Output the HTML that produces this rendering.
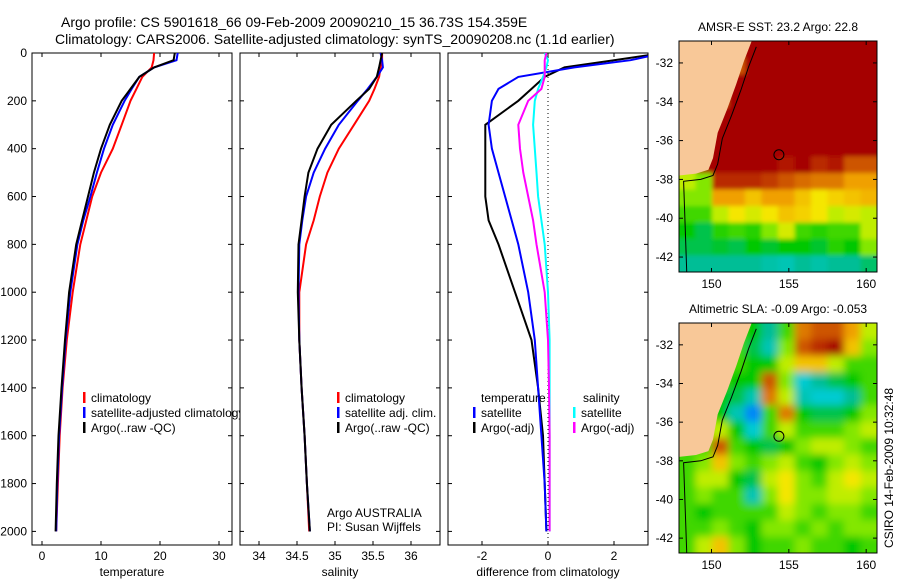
<!DOCTYPE html>
<html><head><meta charset="utf-8"><style>
html,body{margin:0;padding:0;background:#fff;}
svg{display:block;font-family:"Liberation Sans",sans-serif;}
</style></head><body>
<svg id="fig" width="900" height="580" viewBox="0 0 900 580">
<defs>
<filter id="blurS" x="-5%" y="-5%" width="110%" height="110%"><feGaussianBlur stdDeviation="2"/></filter>
<filter id="blurL" x="-5%" y="-5%" width="110%" height="110%"><feGaussianBlur stdDeviation="4"/></filter>
</defs>
<rect x="0" y="0" width="900" height="580" fill="#fff"/>
<text x="61" y="27" font-size="14">Argo profile: CS 5901618_66 09-Feb-2009 20090210_15 36.73S 154.359E</text>
<text x="55" y="44" font-size="14">Climatology: CARS2006. Satellite-adjusted climatology: synTS_20090208.nc (1.1d earlier)</text>
<g id="g"></g>
</svg>
<script>
// ---------- data ----------
const depthTicks=[0,200,400,600,800,1000,1200,1400,1600,1800,2000];
const depths=[0,30,60,100,150,200,300,400,500,600,700,800,1000,1200,1400,1600,1800,2000];
const tempClim=[19,18.9,18.6,17,16,15,13.5,12,10,8.5,7.5,6.5,5.2,4.2,3.5,3,2.7,2.4];
const tempSat=[23,22.8,19,16.5,15.2,14,12,10.5,9.3,8.2,7,6,4.8,4,3.4,2.9,2.6,2.4];
const tempArgo=[22.5,22.3,19,16.5,15,13.5,11.5,10,8.8,7.8,6.8,5.8,4.6,3.9,3.3,2.8,2.5,2.3];
const salClim=[35.62,35.62,35.6,35.58,35.52,35.45,35.25,35.05,34.9,34.8,34.72,34.62,34.53,34.53,34.56,34.6,34.63,34.66];
const salSat=[35.6,35.62,35.63,35.55,35.43,35.3,35.05,34.87,34.72,34.62,34.57,34.53,34.52,34.53,34.56,34.6,34.63,34.67];
const salArgo=[35.62,35.6,35.58,35.55,35.45,35.28,34.95,34.77,34.65,34.6,34.56,34.52,34.51,34.53,34.56,34.6,34.63,34.67];
const dTempSat=[3.5,2.5,0.8,-0.9,-1.5,-1.7,-1.8,-1.7,-1.5,-1.3,-1.1,-0.9,-0.6,-0.4,-0.3,-0.2,-0.1,-0.05];
const dTempArgo=[3.5,2,0.5,-0.1,-0.5,-0.9,-1.9,-1.9,-1.9,-1.9,-1.8,-1.5,-1,-0.5,-0.3,-0.15,-0.1,-0.05];
const dSalSat=[-0.1,0,-0.05,-0.15,-0.3,-0.4,-0.45,-0.4,-0.35,-0.3,-0.2,-0.1,0,0.05,0.05,0.05,0.05,0.05];
const dSalArgo=[-0.05,-0.1,-0.1,-0.1,-0.2,-0.6,-0.9,-0.85,-0.75,-0.6,-0.45,-0.35,-0.1,0,0.03,0.05,0.05,0.05];
const tempTicks=[0,10,20,30];
const salTicks=[34,34.5,35,35.5,36];
const diffTicks=[-2,0,2];
const latTicks=[-32,-34,-36,-38,-40,-42];
const lonTicks=[150,155,160];
const sstGrid=[
[1,1,1,1,1,1,1,1,1,1,1,1],[1,1,1,0.85,1,1,1,1,1,1,1,1],[1,1,0.85,1,1,1,1,1,1,1,1,1],
[1,1,0.85,1,1,1,1,1,1,1,1,1],[1,0.9,1,1,1,1,1,1,1,1,1,1],[1,0.9,1,1,1,1,1,1,1,1,1,1],
[1,1,1,1,1,0.97,0.95,1,0.95,1,1,1],[0.6,1,1,0.97,0.95,0.95,0.92,0.95,0.9,0.92,0.85,0.85],
[0.6,0.55,0.9,0.9,0.9,0.88,0.85,0.82,0.8,0.8,0.75,0.75],[0.55,0.55,0.75,0.75,0.7,0.75,0.75,0.7,0.65,0.68,0.7,0.72],
[0.5,0.5,0.6,0.65,0.62,0.65,0.7,0.68,0.65,0.6,0.62,0.6],[0.45,0.4,0.48,0.5,0.48,0.55,0.62,0.5,0.48,0.5,0.5,0.6],
[0.4,0.4,0.42,0.4,0.45,0.42,0.45,0.45,0.42,0.48,0.45,0.55],[0.35,0.35,0.35,0.35,0.35,0.32,0.3,0.35,0.32,0.35,0.35,0.38]];
const slaGrid=[
[0.5,0.5,0.5,0.5,0.45,0.35,0.5,0.8,0.85,0.85,0.75,0.6],[0.5,0.5,0.5,0.5,0.4,0.3,0.55,0.85,0.9,0.95,0.7,0.55],
[0.5,0.5,0.5,0.5,0.45,0.45,0.6,0.7,0.7,0.6,0.5,0.5],[0.5,0.5,0.5,0.45,0.45,0.85,0.55,0.25,0.35,0.4,0.45,0.5],
[0.5,0.5,0.45,0.4,0.3,0.8,0.6,0.3,0.25,0.25,0.35,0.5],[0.5,0.5,0.45,0.3,0.1,0.5,0.8,0.45,0.4,0.4,0.45,0.55],
[0.5,0.55,0.6,0.45,0.25,0.5,0.6,0.5,0.5,0.5,0.55,0.6],[0.5,0.5,0.85,0.5,0.45,0.4,0.45,0.55,0.6,0.6,0.55,0.5],
[0.5,0.55,0.7,0.55,0.5,0.55,0.6,0.5,0.45,0.55,0.6,0.55],[0.5,0.6,0.6,0.45,0.4,0.6,0.65,0.55,0.5,0.6,0.65,0.6],
[0.5,0.55,0.5,0.5,0.3,0.55,0.65,0.55,0.55,0.6,0.6,0.55],[0.5,0.45,0.5,0.5,0.5,0.5,0.6,0.55,0.5,0.55,0.55,0.5],
[0.5,0.5,0.55,0.5,0.45,0.55,0.55,0.5,0.55,0.5,0.55,0.55],[0.5,0.6,0.7,0.55,0.45,0.5,0.5,0.55,0.5,0.5,0.45,0.5]];
const argoLon=154.359, argoLat=-36.73;
const coastLon=[152.6,152.1,151.6,151.0,150.4,150.1,149.8,149.0,147.9];
const coastLat=[-30.87,-31.9,-33.1,-34.4,-35.6,-36.9,-37.5,-37.7,-37.8];

// ---------- helpers ----------
const NS="http://www.w3.org/2000/svg";
const G=document.getElementById('g');
function mk(tag,attrs,parent){const e=document.createElementNS(NS,tag);for(const k in attrs)e.setAttribute(k,attrs[k]);(parent||G).appendChild(e);return e;}
const yTop=53,yBot=545;
function yD(d){return yTop+d*0.2392;}
function linX(x0,x1,v0,v1){return v=>x0+(v-v0)*(x1-x0)/(v1-v0);}

function panel(name,x0,x1,ticks,xf,label,showY){
  const g=mk('g',{});
  
  
  const r=mk('rect',{x:x0,y:yTop,width:x1-x0,height:yBot-yTop,fill:'#fff',stroke:'#000','stroke-width':1},g);
  
  
  depthTicks.forEach(d=>{
    const y=yD(d);
    mk('line',{x1:x0,x2:x0+4,y1:y,y2:y,stroke:'#000'},g);
    mk('line',{x1:x1-4,x2:x1,y1:y,y2:y,stroke:'#000'},g);
    if(showY){const t=mk('text',{x:x0-5,y:y+4,'font-size':12,'text-anchor':'end'},g);t.textContent=d;
      
      }
  });
  ticks.forEach(v=>{
    const x=xf(v);
    mk('line',{x1:x,x2:x,y1:yBot,y2:yBot-4,stroke:'#000'},g);
    mk('line',{x1:x,x2:x,y1:yTop,y2:yTop+4,stroke:'#000'},g);
    const t=mk('text',{x:x,y:yBot+15,'font-size':12,'text-anchor':'middle'},g);t.textContent=v;
    
    
  });
  const l=mk('text',{x:(x0+x1)/2,y:576,'font-size':12,'text-anchor':'middle'},g);l.textContent=label;
  
  
  return g;
}
function series(g,vals,xf,color,name,clipId){
  const pts=depths.map((d,i)=>xf(vals[i]).toFixed(1)+','+yD(d).toFixed(1)).join(' ');
  const p=mk('polyline',{points:pts,fill:'none',stroke:color,'stroke-width':2,'clip-path':'url(#'+clipId+')'},g);
  
  
}
function clip(id,x0,x1){const defs=mk('defs',{});const c=mk('clipPath',{id:id},defs);mk('rect',{x:x0,y:yTop,width:x1-x0,height:yBot-yTop},c);}
function legend(g,x,y,color,text){
  mk('rect',{x:x,y:y-10,width:2.5,height:11,fill:color},g);
  const t=mk('text',{x:x+8,y:y,'font-size':12},g);t.textContent=text;
  
  
}

// panel 1
const xT=linX(42,219,0,30);
const p1=panel('temperature-panel',32,232,tempTicks,xT,'temperature',true);
clip('c1',32,232);
series(p1,tempClim,xT,'#f00','temp-climatology-line','c1');
series(p1,tempSat,xT,'#00f','temp-satellite-line','c1');
series(p1,tempArgo,xT,'#000','temp-argo-line','c1');
legend(p1,83,402,'#f00','climatology');
legend(p1,83,417,'#00f','satellite-adjusted climatology');
legend(p1,83,432,'#000','Argo(..raw -QC)');

// panel 2
const xS=linX(259,411,34,36);
const p2=panel('salinity-panel',240,440,salTicks,xS,'salinity',false);
clip('c2',240,440);
series(p2,salClim,xS,'#f00','sal-climatology-line','c2');
series(p2,salSat,xS,'#00f','sal-satellite-line','c2');
series(p2,salArgo,xS,'#000','sal-argo-line','c2');
legend(p2,337,402,'#f00','climatology');
legend(p2,337,417,'#00f','satellite adj. clim.');
legend(p2,337,432,'#000','Argo(..raw -QC)');
let t=mk('text',{x:327,y:517,'font-size':12},p2);t.textContent='Argo AUSTRALIA';


t=mk('text',{x:327,y:531,'font-size':12},p2);t.textContent='PI: Susan Wijffels';



// panel 3
const xDf=linX(482,614,-2,2);
const p3=panel('difference-panel',448,648,diffTicks,xDf,'difference from climatology',false);
clip('c3',448,648);
const zl=mk('line',{x1:xDf(0),x2:xDf(0),y1:yTop,y2:yBot,stroke:'#000','stroke-dasharray':'1,3'},p3);


series(p3,dTempArgo,xDf,'#000','dtemp-argo-line','c3');
series(p3,dTempSat,xDf,'#00f','dtemp-satellite-line','c3');
series(p3,dSalSat,xDf,'#0ff','dsal-satellite-line','c3');
series(p3,dSalArgo,xDf,'#f0f','dsal-argo-line','c3');
t=mk('text',{x:481,y:402,'font-size':12},p3);t.textContent='temperature';


t=mk('text',{x:583,y:402,'font-size':12},p3);t.textContent='salinity';


legend(p3,473,417,'#00f','satellite');
legend(p3,473,432,'#000','Argo(-adj)');
legend(p3,573,417,'#0ff','satellite');
legend(p3,573,432,'#f0f','Argo(-adj)');

// ---------- maps ----------
const cmStops=[[0,[0,60,255]],[0.2,[0,210,240]],[0.35,[0,190,150]],[0.45,[0,200,0]],[0.58,[170,240,0]],[0.65,[245,230,0]],[0.75,[240,160,0]],[0.85,[205,85,0]],[0.95,[165,0,0]],[1,[165,0,0]]];
function cmap(v){for(let i=1;i<cmStops.length;i++){if(v<=cmStops[i][0]){const a=cmStops[i-1],b=cmStops[i];const f=(v-a[0])/(b[0]-a[0]);return 'rgb('+a[1].map((c,k)=>Math.round(c+(b[1][k]-c)*f)).join(',')+')';}}return 'rgb(165,0,0)';}
function mapPanel(name,top,bottom,grid,title,filt){
  const x0=679,x1=877;
  const lonF=linX(x0,x1,147.9,160.7);
  const latF=v=>top+(-30.87-v)*(bottom-top)/(42.77-30.87);
  const g=mk('g',{});
  
  
  const defs=mk('defs',{},g);
  const cp=mk('clipPath',{id:name+'-clip'},defs);
  mk('rect',{x:x0,y:top,width:x1-x0,height:bottom-top},cp);
  const cg=mk('g',{'clip-path':'url(#'+name+'-clip)'},g);
  const fg=mk('g',{filter:'url(#'+filt+')'},cg);
  const rows=grid.length,cols=grid[0].length;
  const cw=(x1-x0)/cols,ch=(bottom-top)/rows;
  grid.forEach((row,r)=>row.forEach((v,c)=>{
    let ex=0,ey=0,ew=0,eh=0;
    if(c===0){ex=-15;ew=15;} if(c===cols-1){ew=15;}
    if(r===0){ey=-15;eh=15;} if(r===rows-1){eh=15;}
    const cell=mk('rect',{x:x0+c*cw+ex,y:top+r*ch+ey,width:cw+0.5+ew,height:ch+0.5+eh,fill:cmap(v)},fg);
    
    
  }));
  let pts=x0+','+top+' ';
  pts+=coastLon.map((lo,i)=>lonF(lo).toFixed(1)+','+latF(coastLat[i]).toFixed(1)).join(' ');
  const land=mk('polygon',{points:pts,fill:'#f8c898'},g);
  
  
  const shelf=mk('polyline',{points:coastLon.map((lo,i)=>lonF(lo+0.3).toFixed(1)+','+latF(coastLat[i]-0.3).toFixed(1)).join(' ')+' '+lonF(148.4)+','+bottom,fill:'none',stroke:'#000','stroke-width':1},g);
  
  
  const fr=mk('rect',{x:x0,y:top,width:x1-x0,height:bottom-top,fill:'none',stroke:'#000'},g);
  
  
  const ci=mk('circle',{cx:lonF(argoLon),cy:latF(argoLat),r:5,fill:'none',stroke:'#000','stroke-width':1},g);
  
  
  latTicks.forEach(v=>{const y=latF(v);
    mk('line',{x1:x0,x2:x0+4,y1:y,y2:y,stroke:'#000'},g);mk('line',{x1:x1-4,x2:x1,y1:y,y2:y,stroke:'#000'},g);
    const tt=mk('text',{x:x0-6,y:y+4,'font-size':12,'text-anchor':'end'},g);tt.textContent=v;
    
    });
  lonTicks.forEach(v=>{const x=lonF(v);
    mk('line',{x1:x,x2:x,y1:bottom,y2:bottom-4,stroke:'#000'},g);mk('line',{x1:x,x2:x,y1:top,y2:top+4,stroke:'#000'},g);
    const tt=mk('text',{x:x,y:bottom+16,'font-size':12,'text-anchor':'middle'},g);tt.textContent=v;
    
    });
  const ti=mk('text',{x:(x0+x1)/2,y:top-10,'font-size':12,'text-anchor':'middle'},g);ti.textContent=title;
  
  
}
mapPanel('sst-map',41,272,sstGrid,'AMSR-E SST: 23.2  Argo: 22.8','blurS');
mapPanel('sla-map',323,553,slaGrid,'Altimetric SLA: -0.09  Argo: -0.053','blurL');
t=mk('text',{x:0,y:0,'font-size':12,'text-anchor':'middle',transform:'translate(893,468) rotate(-90)'});
t.textContent='CSIRO 14-Feb-2009 10:32:48';


</script>
</body></html>
